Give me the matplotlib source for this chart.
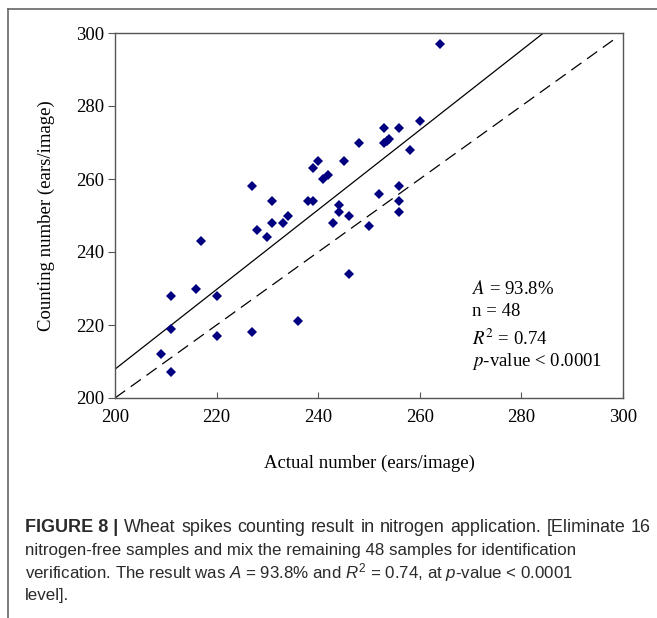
import matplotlib
matplotlib.use("Agg")
import matplotlib.pyplot as plt
from matplotlib.lines import Line2D
import numpy as np

# ---- data ----
actual = [209, 211, 211, 211, 216, 217, 220, 220, 227, 227, 228, 230, 231, 231,
          233, 234, 236, 238, 239, 239, 240, 241, 242, 243, 244, 244, 245, 246,
          246, 248, 250, 252, 253, 253, 253.5, 254, 256, 256, 256, 256, 258, 260, 264]
counted = [212, 207, 219, 228, 230, 243, 228, 217, 218, 258, 246, 244, 248, 254,
           248, 250, 221, 254, 254, 263, 265, 260, 261, 248, 253, 251, 265, 250,
           234, 270, 247, 256, 274, 270, 270.5, 271, 274, 258, 254, 251, 268, 276, 297]
fit_slope = 1.092
fit_intercept = -10.5
x_ticks = [200, 220, 240, 260, 280, 300]
y_ticks = [200, 220, 240, 260, 280, 300]
stats_lines = [r"$A$ = 93.8%", "n = 48", r"$R^2$ = 0.74", r"$p$-value < 0.0001"]
caption_head = "FIGURE 8 |"
caption_first = "Wheat spikes counting result in nitrogen application. [Eliminate 16"
caption_rest = [
    "nitrogen-free samples and mix the remaining 48 samples for identification",
    r"verification. The result was $A$ = 93.8% and $R^2$ = 0.74, at $p$-value < 0.0001",
    "level].",
]

plt.rcParams['mathtext.fontset'] = 'custom'
plt.rcParams['mathtext.rm'] = 'Liberation Sans'
plt.rcParams['mathtext.it'] = 'Liberation Sans:italic'
plt.rcParams['mathtext.bf'] = 'Liberation Sans:bold'

W, H = 657, 618
fig = plt.figure(figsize=(W / 100, H / 100), dpi=100)
ax = fig.add_axes([115 / W, 1 - 398 / H, (623 - 115) / W, (398 - 33) / H])

serif = 'Liberation Serif'
navy = '#000080'

ax.plot(actual, counted, ls='none', marker='D', ms=5.3, color=navy, mew=0, zorder=3)

xs = np.array([200, (300 - fit_intercept) / fit_slope])
ax.plot(xs, fit_slope * xs + fit_intercept, color='black', lw=0.9, zorder=2)
ax.plot([200, 299], [200, 299], color='black', lw=0.9, dashes=(10, 5.5), zorder=2)

ax.set_xlim(200, 300)
ax.set_ylim(200, 300)
ax.set_xticks(x_ticks)
ax.set_yticks(y_ticks)
ax.set_xticklabels([str(v) for v in x_ticks], fontfamily=serif, fontsize=13.5)
ax.set_yticklabels([str(v) for v in y_ticks], fontfamily=serif, fontsize=13.5)
ax.tick_params(axis='x', direction='in', length=4, width=0.8, color='#555555', pad=8)
ax.tick_params(axis='y', direction='out', length=5, width=0.8, color='#555555', pad=3)
for s in ax.spines.values():
    s.set_color('#555555')
    s.set_linewidth(1.0)

ax.set_xlabel("Actual number (ears/image)", fontfamily=serif, fontsize=13.5)
ax.set_ylabel("Counting number (ears/image)", fontfamily=serif, fontsize=13.5)
ax.xaxis.set_label_coords(0.5, -(455 - 398) / 365)
ax.yaxis.set_label_coords(-(115 - 55) / 508, 0.5)

ys = [229.9, 223.8, 216.2, 209.9]
for txt, yv in zip(stats_lines, ys):
    ax.text(270.2, yv, txt, fontfamily=serif, fontsize=13.5, va='center', ha='left',
            math_fontfamily='stix')

cap_font = dict(fontfamily='Liberation Sans', color='#2a2a2a', va='baseline', ha='left')
cap_base = [532, 555, 578, 600]
left_px = 25
right_px = 651

# first caption line, spread between left_px and right_px
renderer = fig.canvas.get_renderer()
head = fig.text(left_px / W, 1 - cap_base[0] / H, caption_head, fontweight='bold',
                fontsize=13.0, **cap_font)
pieces = [head]
for w in caption_first.split(" "):
    pieces.append(fig.text(0, 1 - cap_base[0] / H, w, fontsize=12.9, **cap_font))
widths = [p.get_window_extent(renderer).width for p in pieces]
gap = (right_px - left_px - sum(widths)) / (len(pieces) - 1)
x = left_px
for p, wd in zip(pieces, widths):
    p.set_x(x / W)
    x += wd + gap

for txt, yb in zip(caption_rest, cap_base[1:]):
    fig.text(left_px / W, 1 - yb / H, txt, fontsize=12.2, **cap_font)

# outer frame lines
fig.add_artist(Line2D([8 / W, 1.0], [1 - 9 / H, 1 - 9 / H], transform=fig.transFigure,
                      color='#666666', lw=1.2))
fig.add_artist(Line2D([8 / W, 8 / W], [1 - 9 / H, 0.0], transform=fig.transFigure,
                      color='#666666', lw=1.2))

fig.savefig("out.png", dpi=100)
